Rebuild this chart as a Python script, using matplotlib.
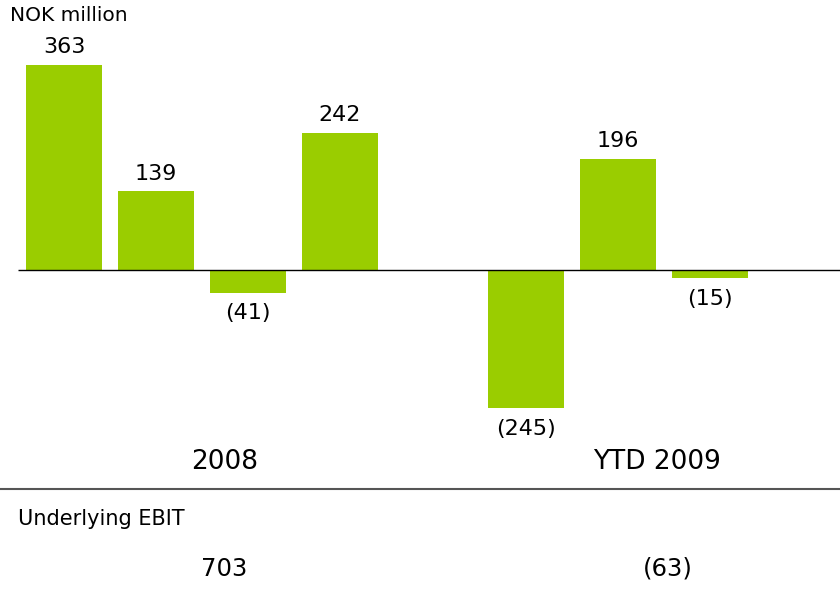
import matplotlib.pyplot as plt

# Data
values = [363, 139, -41, 242, -245, 196, -15]
slots = [0, 1, 2, 3, 5.02, 6.02, 7.02]
groups = ["2008", "YTD 2009"]
group_centers = [1.75, 6.45]
ebit = ["703", "(63)"]
ebit_centers = [1.74, 6.56]

green = "#9acd00"


def fmt(v):
    return str(v) if v >= 0 else "(%d)" % -v


fig = plt.figure(figsize=(8.4, 5.93), dpi=100)
ax = fig.add_axes([0, 0, 1, 1])
ax.set_xlim(-0.696, 8.435)
ax.set_ylim(-571.7, 477.9)
ax.axis("off")

ax.bar(slots, values, width=0.83, color=green, zorder=1)
ax.hlines(0, -0.5, 8.435, color="black", lw=1, zorder=2)

for x, v in zip(slots, values):
    if v >= 0:
        ax.text(x, v + 14, fmt(v), ha="center", va="bottom", fontsize=16)
    else:
        ax.text(x, v - 18, fmt(v), ha="center", va="top", fontsize=16)

for x, g in zip(group_centers, groups):
    ax.text(x, -340, g, ha="center", va="center", fontsize=19)

ax.hlines(-387, -0.696, 8.435, color="#555555", lw=1.5)

ax.text(-0.5, -440, "Underlying EBIT", ha="left", va="center", fontsize=15)
for x, e in zip(ebit_centers, ebit):
    ax.text(x, -529, e, ha="center", va="center", fontsize=17.5)

ax.text(-0.59, 451, "NOK million", ha="left", va="center", fontsize=14.5)

plt.savefig("out.png", dpi=100)
